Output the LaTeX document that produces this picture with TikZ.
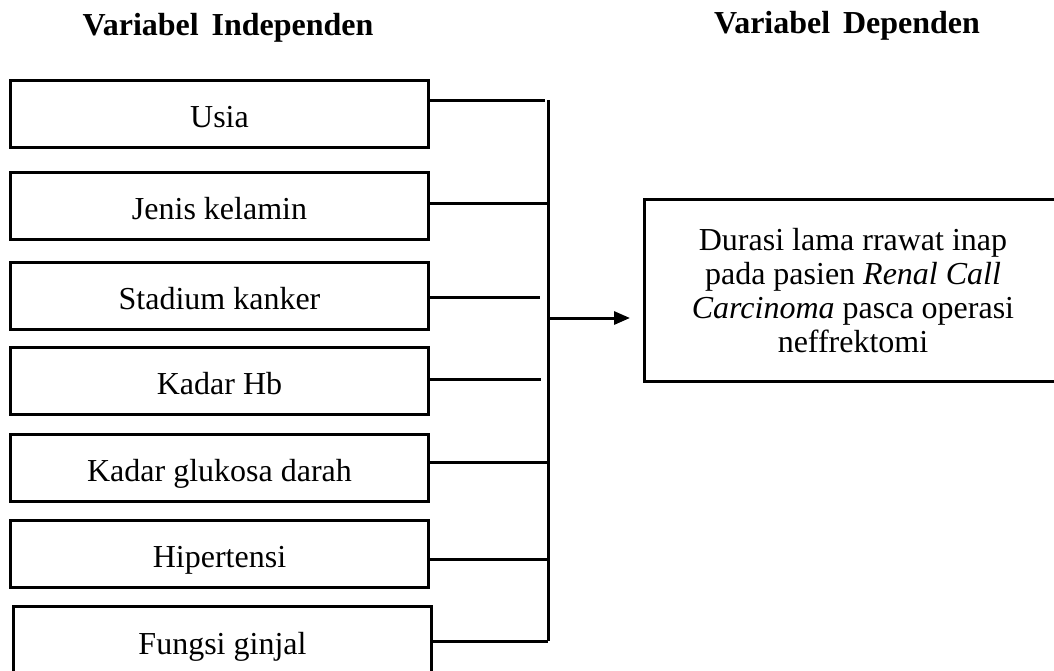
\documentclass[tikz,border=0pt]{standalone}
\usepackage{fontspec}
\setmainfont{Liberation Serif}
\usetikzlibrary{arrows.meta}
\tikzset{
  varbox/.style={draw, line width=1.5pt, anchor=north west, inner sep=0pt,
    minimum width=209pt, text height=13.5pt, text depth=0pt,
    font=\fontsize{16}{17}\selectfont},
  judul/.style={anchor=base, font=\fontsize{16}{19}\selectfont\bfseries},
  garis/.style={line width=1.5pt},
}
\begin{document}
\begin{tikzpicture}[x=0.5pt,y=-0.5pt]
\useasboundingbox (0,0) rectangle (1054,670);
\clip (0,0) rectangle (1054,670);
\node[judul] (indep) at (228,35) {Variabel\hspace{0.4em}Independen};
\node[judul] (dep) at (847,33) {Variabel\hspace{0.4em}Dependen};
% kotak variabel independen
\foreach \i/\lbl/\tp/\ly/\lx in {1/Usia/79/100/545, 2/Jenis kelamin/171/203/548,
  3/Stadium kanker/261/297/540, 4/Kadar Hb/346/379/541,
  5/Kadar glukosa darah/433/462/548, 6/Hipertensi/519/559/548} {
  \node[varbox, minimum height=33.5pt] (v\i) at (9,\tp) {\lbl};
  \coordinate (e\i) at (\lx,\ly);
  \draw[garis] (v\i.east |- e\i) -- (e\i);
}
\node[varbox, minimum height=34pt] (v7) at (12,605) {Fungsi ginjal};
\coordinate (e7) at (548,641);
\draw[garis] (v7.east |- e7) -- (e7);
% garis vertikal
\coordinate (atas) at (548,100);
\coordinate (tengah) at (548,318);
\draw[garis] (atas) -- (e7);
% variabel dependen
\node[draw, line width=1.5pt, anchor=north west, minimum width=208.5pt,
  minimum height=91pt, align=center, font=\fontsize{16}{17}\selectfont]
  (hasil) at (643,198) {Durasi lama rrawat inap\\ pada pasien \textit{Renal Call}\\
  \textit{Carcinoma} pasca operasi\\ neffrektomi};
\draw[garis, -{Triangle[length=8pt,width=6.5pt]}] (tengah) -- ([xshift=-6.5pt]hasil.west |- tengah);
\end{tikzpicture}
\end{document}
